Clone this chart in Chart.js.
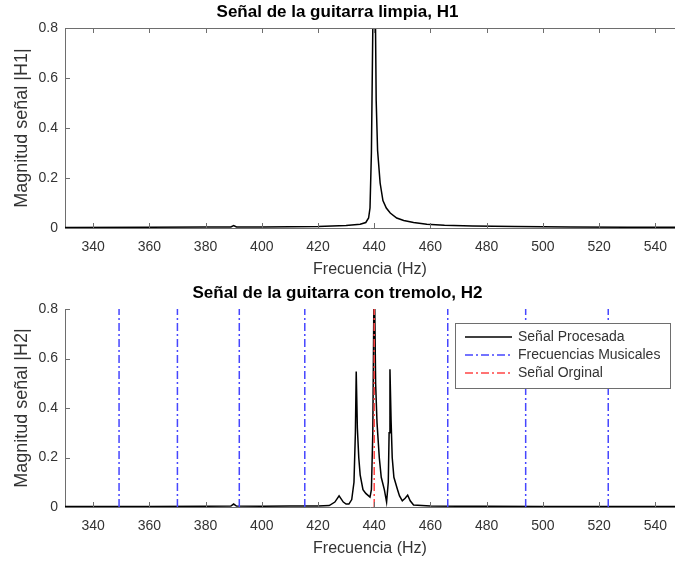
<!DOCTYPE html>
<html>
<head>
<meta charset="utf-8">
<script src="https://cdn.jsdelivr.net/npm/chart.js@4/dist/chart.umd.min.js"></script>
<style>
  body { margin: 0; background: #fff; }
  canvas { display: block; }
</style>
</head>
<body>
<canvas id="chart1" width="675" height="284"></canvas>
<canvas id="chart2" width="675" height="277"></canvas>
<script>
// tick labels
const xTicks = [340, 360, 380, 400, 420, 440, 460, 480, 500, 520, 540];
const yTicks = [0, 0.2, 0.4, 0.6, 0.8];

// clean guitar spectrum |H1|
const h1Freq = [330, 360, 380, 389, 390, 391, 400, 410, 420, 430, 435, 437, 438, 438.5, 439, 439.3, 439.7,
  440.3, 440.7, 441.2, 442.1, 443.1, 444.3, 445.7, 448, 450.5, 454, 458.7, 465, 475, 490, 510, 530, 547];
const h1Mag = [0.002, 0.003, 0.004, 0.004, 0.01, 0.004, 0.004, 0.005, 0.006, 0.01, 0.015, 0.022, 0.04, 0.08, 0.3, 0.6, 1.0,
  1.0, 0.51, 0.31, 0.18, 0.11, 0.08, 0.06, 0.04, 0.03, 0.022, 0.015, 0.011, 0.008, 0.006, 0.004, 0.003, 0.003];

// tremolo spectrum |H2|
const h2Freq = [330, 340, 360, 380, 389, 390, 391, 400, 410, 420, 424, 426, 427.5, 429, 430, 431, 432, 432.8, 433.3, 433.6,
  434, 434.5, 435, 436, 437, 438, 438.5, 439, 439.5, 440, 440.5, 441, 441.8, 442.5, 443.6, 444.4, 445, 445.3, 445.6,
  446, 446.4, 447, 448.3, 449, 450, 451, 451.9, 452.8, 454, 460, 470, 480, 500, 520, 547];
const h2Mag = [0.002, 0.002, 0.002, 0.003, 0.004, 0.012, 0.004, 0.003, 0.004, 0.004, 0.006, 0.02, 0.045, 0.02, 0.012, 0.012, 0.03, 0.1, 0.3, 0.547,
  0.32, 0.2, 0.13, 0.07, 0.055, 0.045, 0.04, 0.07, 0.3, 1.0, 0.5, 0.34, 0.2, 0.12, 0.07, 0.02, 0.1, 0.3, 0.557,
  0.35, 0.2, 0.12, 0.07, 0.045, 0.025, 0.035, 0.048, 0.025, 0.008, 0.004, 0.003, 0.003, 0.002, 0.002, 0.002];

// musical note frequencies and original tone
const notesHz = [349.23, 369.99, 392.00, 415.30, 466.16, 493.88, 523.25];
const originalHz = [440];

const axisColor = '#6e6e6e';
const textColor = '#333333';
const fontFamily = '"Liberation Sans", Arial, sans-serif';
const dashDot = [8, 3, 2, 3];

function toPoints(xs, ys) {
  return xs.map((x, i) => ({ x: x, y: ys[i] }));
}

function vLines(freqs) {
  const pts = [];
  freqs.forEach(f => {
    pts.push({ x: f, y: yTicks[0] }, { x: f, y: yTicks[yTicks.length - 1] }, { x: f, y: null });
  });
  return pts;
}

// inward MATLAB style ticks (+ top border for the first plot)
function inTicks(boxed) {
  return {
    id: 'inTicks',
    afterDraw(chart) {
      const ctx = chart.ctx;
      const a = chart.chartArea;
      const xs = chart.scales.x, ys = chart.scales.y;
      ctx.save();
      ctx.strokeStyle = axisColor;
      ctx.lineWidth = 1;
      ctx.beginPath();
      xTicks.forEach(v => {
        const px = Math.round(xs.getPixelForValue(v)) + 0.5;
        ctx.moveTo(px, a.bottom);
        ctx.lineTo(px, a.bottom - 5);
        if (boxed) {
          ctx.moveTo(px, a.top);
          ctx.lineTo(px, a.top + 5);
        }
      });
      yTicks.forEach(v => {
        const py = Math.round(ys.getPixelForValue(v)) + 0.5;
        ctx.moveTo(a.left, py);
        ctx.lineTo(a.left + 5, py);
      });
      if (boxed) {
        ctx.moveTo(a.left, a.top + 0.5);
        ctx.lineTo(a.right, a.top + 0.5);
      }
      ctx.stroke();
      ctx.restore();
    }
  };
}

const legendBox = {
  id: 'legendBox',
  afterDraw(chart) {
    const ctx = chart.ctx;
    const a = chart.chartArea;
    const w = 215, h = 65;
    const x = a.right - 5 - w, y = a.top + 14;
    ctx.save();
    ctx.fillStyle = '#fff';
    ctx.fillRect(x, y, w, h);
    ctx.strokeStyle = axisColor;
    ctx.lineWidth = 1;
    ctx.strokeRect(x + 0.5, y + 0.5, w, h);
    ctx.font = '14px ' + fontFamily;
    ctx.textBaseline = 'middle';
    chart.data.datasets.forEach((ds, i) => {
      const ly = y + 14 + i * 18;
      ctx.strokeStyle = ds.borderColor;
      ctx.lineWidth = 1.5;
      ctx.setLineDash(ds.borderDash || []);
      ctx.beginPath();
      ctx.moveTo(x + 10, ly);
      ctx.lineTo(x + 57, ly);
      ctx.stroke();
      ctx.setLineDash([]);
      ctx.fillStyle = textColor;
      ctx.fillText(ds.label, x + 63, ly);
    });
    ctx.restore();
  }
};

function makeOptions(title, yTitle, titlePad, xHeight, xTitlePad) {
  return {
    responsive: false,
    animation: false,
    devicePixelRatio: 1,
    layout: { padding: 0 },
    elements: { point: { radius: 0 }, line: { tension: 0 } },
    plugins: {
      legend: { display: false },
      tooltip: { enabled: false },
      title: {
        display: true,
        text: title,
        color: '#000',
        font: { family: fontFamily, size: 17, weight: 'bold', lineHeight: 1 },
        padding: titlePad
      }
    },
    scales: {
      x: {
        type: 'linear',
        min: 330,
        max: 547,
        afterBuildTicks: s => { s.ticks = xTicks.map(v => ({ value: v })); },
        afterFit: s => { s.height = xHeight; s.paddingRight = 0; s.paddingLeft = 0; },
        grid: { display: true, drawOnChartArea: false, drawTicks: false },
        border: { display: true, color: axisColor, width: 1 },
        ticks: { color: textColor, font: { family: fontFamily, size: 14 }, padding: 11, maxRotation: 0 },
        title: {
          display: true,
          text: 'Frecuencia (Hz)',
          color: textColor,
          font: { family: fontFamily, size: 16 },
          padding: { top: 0, bottom: xTitlePad }
        }
      },
      y: {
        type: 'linear',
        min: 0,
        max: 0.8,
        afterBuildTicks: s => { s.ticks = yTicks.map(v => ({ value: v })); },
        afterFit: s => { s.width = 65; },
        grid: { display: true, drawOnChartArea: false, drawTicks: false },
        border: { display: true, color: axisColor, width: 1 },
        ticks: { color: textColor, font: { family: fontFamily, size: 14 }, padding: 7, callback: v => String(v) },
        title: {
          display: true,
          text: yTitle,
          color: textColor,
          font: { family: fontFamily, size: 18 },
          padding: { top: 11, bottom: 0 }
        }
      }
    }
  };
}

new Chart(document.getElementById('chart1').getContext('2d'), {
  type: 'line',
  data: {
    datasets: [{
      label: 'H1',
      data: toPoints(h1Freq, h1Mag),
      borderColor: '#000',
      borderWidth: 1.5,
      fill: false
    }]
  },
  options: makeOptions('Señal de la guitarra limpia, H1', 'Magnitud señal |H1|', { top: 3.5, bottom: 7.5 }, 56, 4.4),
  plugins: [inTicks(true)]
});

new Chart(document.getElementById('chart2').getContext('2d'), {
  type: 'line',
  data: {
    datasets: [{
      label: 'Señal Procesada',
      data: toPoints(h2Freq, h2Mag),
      borderColor: '#000',
      borderWidth: 1.5,
      fill: false,
      order: 2
    }, {
      label: 'Frecuencias Musicales',
      data: vLines(notesHz),
      borderColor: '#4646ff',
      borderWidth: 1.5,
      borderDash: dashDot,
      spanGaps: false,
      fill: false,
      order: 1
    }, {
      label: 'Señal Orginal',
      data: vLines(originalHz),
      borderColor: '#ff4646',
      borderWidth: 1.5,
      borderDash: dashDot,
      spanGaps: false,
      fill: false,
      order: 0
    }]
  },
  options: makeOptions('Señal de la guitarra con tremolo, H2', 'Magnitud señal |H2|', { top: 0.5, bottom: 7.5 }, 54, 2.4),
  plugins: [inTicks(false), legendBox]
});
</script>
</body>
</html>
